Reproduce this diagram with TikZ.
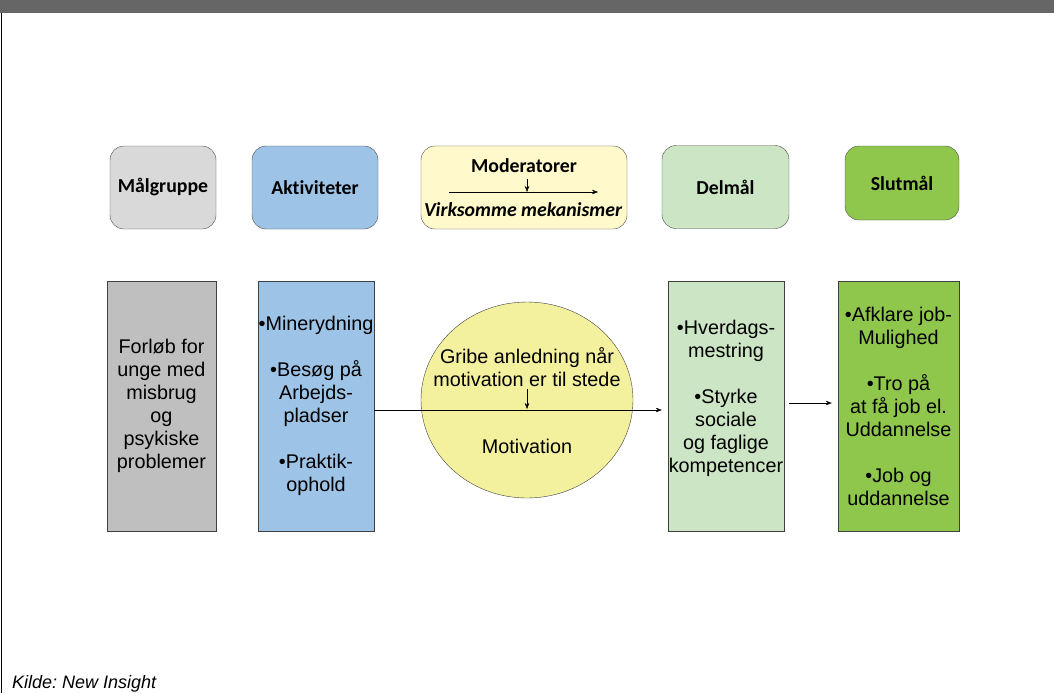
\documentclass[tikz,border=0pt]{standalone}
\usepackage{fontspec}
\setmainfont{Liberation Sans}
\newfontfamily\calib[Ligatures=NoCommon]{Carlito}
\usepackage{tikz}
\usetikzlibrary{calc}
\usetikzlibrary{shapes}
\usetikzlibrary{arrows.meta}
\definecolor{barc}{HTML}{666666}
\definecolor{grayc}{HTML}{D9D9D9}
\definecolor{grayd}{HTML}{BFBFBF}
\definecolor{bluec}{HTML}{9DC3E6}
\definecolor{modc}{HTML}{FFF9CC}
\definecolor{ellc}{HTML}{F4F19E}
\definecolor{lgreen}{HTML}{CCE5C4}
\definecolor{dgreen}{HTML}{8FC74C}
\newcommand{\bigtxt}{\fontsize{19.8}{23}\selectfont}
\frenchspacing

\begin{document}
\begin{tikzpicture}[x=1pt,y=-1pt,>={Stealth[length=6pt,width=4.5pt]},
    headbox/.style={draw=black!70,rounded corners=14pt,font=\calib\bfseries\bigtxt,
                    minimum width=#1,minimum height=83pt,inner sep=0pt},
    colbox/.style={draw=black!75,minimum width=#1,minimum height=250pt,
                   align=center,font=\bigtxt,inner sep=0pt}]
    \useasboundingbox (0,0) rectangle (1054,693);
    % frame
    \fill[barc] (0,0) rectangle (1054,13);
    \draw[black] (1.5,13) -- (1.5,693);

    % headers
    \node[headbox=106pt,fill=grayc] (malg) at (163,187.5) {Målgruppe};
    \node[headbox=126pt,fill=bluec] (akt) at (315,187.5) {Aktiviteter};
    \node[headbox=206pt,fill=modc] (mod) at (524,187.5) {};
    \node[font=\calib\bfseries\bigtxt] (modt) at (524,166) {Moderatorer};
    \node[font=\calib\bfseries\itshape\bigtxt] (modv) at (523,210) {Virksomme mekanismer};
    \draw[->] ([xshift=-75pt,yshift=-4.5pt]mod.center) -- ([xshift=74pt,yshift=-4.5pt]mod.center);
    \draw[->] ([xshift=3pt,yshift=8.5pt]mod.center) -- ([xshift=3pt,yshift=-4.5pt]mod.center);
    \node[headbox=127pt,fill=lgreen] (delm) at (725.5,187) {Delmål};
    \node[headbox=114pt,minimum height=74pt,fill=dgreen] (slut) at (902,183) {Slutmål};

    % columns
    \node[colbox=109pt,fill=grayd] (forl) at (161.5,406)
        {Forløb for\\unge med\\misbrug\\og\\psykiske\\problemer};
    \node[colbox=116pt,fill=bluec] (aktb) at (316,406)
        {•Minerydning\\[23pt]•Besøg på\\Arbejds-\\pladser\\[23pt]•Praktik-\\ophold};
    \node[draw=black!75,fill=ellc,ellipse,minimum width=212pt,minimum height=196pt] (ell) at (527,400) {};
    \node[align=center,font=\bigtxt] (gribe) at (527,367) {Gribe anledning når\\motivation er til stede};
    \node[font=\bigtxt] (motiv) at (527,446) {Motivation};
    \node[colbox=116pt,fill=lgreen] (delb) at (726,406) {};
    \node[align=center,font=\bigtxt,inner sep=0pt] (delbt) at (726,398.5)
        {•Hverdags-\\mestring\\[23pt]•Styrke\\sociale\\og faglige\\kompetencer};
    \node[colbox=121pt,fill=dgreen] (slutb) at (898.5,406)
        {•Afklare job-\\Mulighed\\[23pt]•Tro på\\at få job el.\\Uddannelse\\[23pt]•Job og\\uddannelse};

    % connectors
    \draw[->] ([yshift=-4pt]aktb.east) -- ([xshift=-6pt,yshift=-4pt]delb.west);
    \draw[->] ([yshift=11pt]ell.center) -- ([yshift=-9pt]ell.center);
    \draw[->] ([xshift=5pt,yshift=3pt]delb.east) -- ([xshift=-6pt,yshift=3pt]slutb.west);

    \node[anchor=base west,font=\itshape\fontsize{18}{21}\selectfont,inner sep=0pt] (kilde) at (12,688) {Kilde: New Insight};
\end{tikzpicture}
\end{document}
